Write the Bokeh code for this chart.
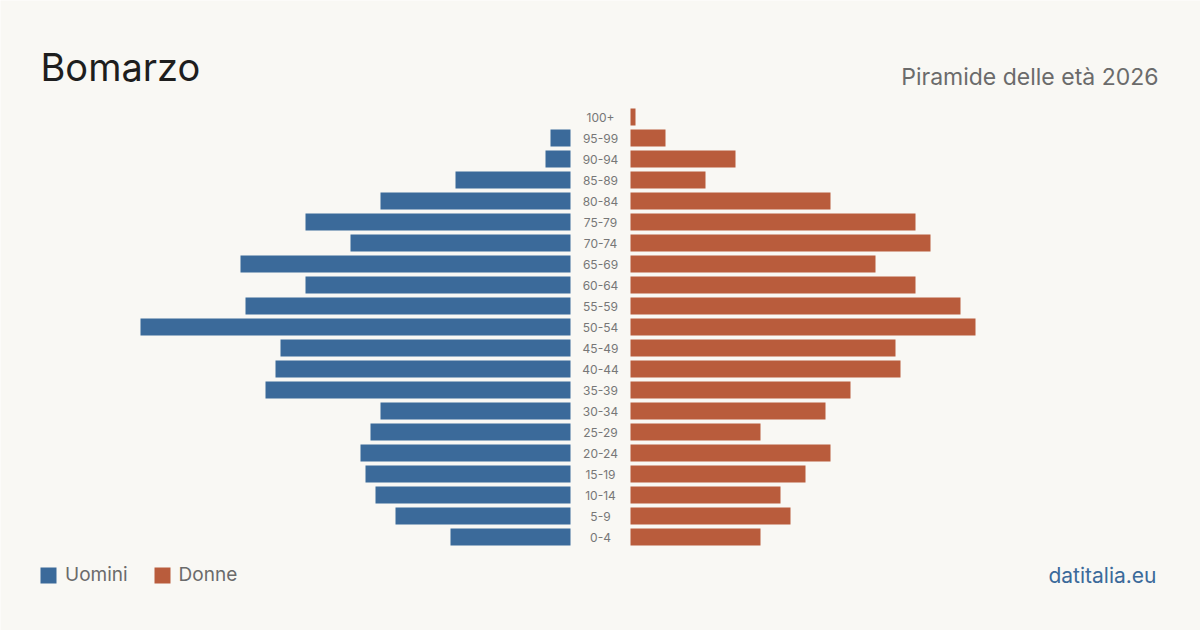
from bokeh.plotting import figure
from bokeh.models import Range1d, Label, Legend, LegendItem
from bokeh.embed import file_html
from bokeh.resources import INLINE

# Age classes from youngest to oldest
ages = ["0-4", "5-9", "10-14", "15-19", "20-24", "25-29", "30-34", "35-39",
        "40-44", "45-49", "50-54", "55-59", "60-64", "65-69", "70-74", "75-79",
        "80-84", "85-89", "90-94", "95-99", "100+"]
uomini = [24, 35, 39, 41, 42, 40, 38, 61, 59, 58, 86, 65, 53, 66, 44, 53, 38, 23, 5, 4, 0]
donne = [26, 32, 30, 35, 40, 26, 39, 44, 54, 53, 69, 66, 57, 49, 60, 57, 40, 15, 21, 7, 1]

BG = "#f9f8f4"
BLUE = "#3b6a9a"
ORANGE = "#b95c3c"
FONT = "Inter"

W, H = 1200, 630
GAP = 6            # half of the central label column, in persons
ROW_PX = 21        # pixel pitch of one age row
BAR_H = 17 / ROW_PX

p = figure(width=W, height=H, output_backend="svg", toolbar_location=None,
           min_border=0, background_fill_color=BG, border_fill_color=BG,
           outline_line_color=None)
p.x_range = Range1d(-120, 120)
y0 = (H - 536.5) / ROW_PX
p.y_range = Range1d(-y0, H / ROW_PX - y0)
p.axis.visible = False
p.grid.visible = False

idx = list(range(len(ages)))
left_m = [-(GAP + v) for v in uomini]
right_w = [GAP + v for v in donne]

rm = p.hbar(y=idx, left=left_m, right=[-GAP] * len(idx), height=BAR_H,
            fill_color=BLUE, line_color=None)
rw = p.hbar(y=idx, left=[GAP] * len(idx), right=right_w, height=BAR_H,
            fill_color=ORANGE, line_color=None)

p.text(x=[0] * len(idx), y=idx, text=ages, text_align="center",
       text_baseline="middle", text_font_size="12px", text_color="#777777",
       text_font={"value": FONT})

p.add_layout(Label(x=40, y=H - 66, x_units="screen", y_units="screen",
                   text="Bomarzo", text_font=FONT, text_font_size="38px",
                   text_color="#1e1e1e", text_baseline="alphabetic"))
p.add_layout(Label(x=1158, y=H - 76, x_units="screen", y_units="screen",
                   text="Piramide delle età 2026", text_font=FONT,
                   text_font_size="23px", text_color="#6b6b6b",
                   text_align="right", text_baseline="alphabetic"))
p.add_layout(Label(x=1156, y=H - 575, x_units="screen", y_units="screen",
                   text="datitalia.eu", text_font=FONT, text_font_size="21px",
                   text_color=BLUE, text_align="right",
                   text_baseline="alphabetic"))

legend = Legend(items=[LegendItem(label="Uomini", renderers=[rm]),
                       LegendItem(label="Donne", renderers=[rw])],
                orientation="horizontal", location=(38, 44),
                padding=0, margin=0, spacing=24, label_standoff=7,
                glyph_width=20, glyph_height=20, label_height=20,
                label_text_font=FONT, label_text_font_size="19px",
                label_text_color="#6b6b6b", border_line_color=None,
                background_fill_alpha=0)
p.add_layout(legend, "center")

open("out.html", "w").write(file_html(p, INLINE))
